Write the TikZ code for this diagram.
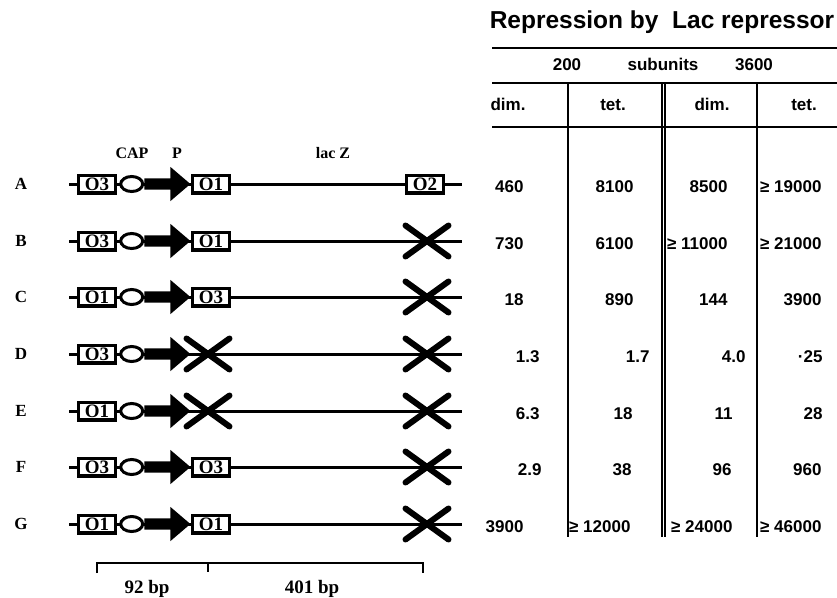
\documentclass[tikz,border=0pt]{standalone}
\usepackage{fontspec}
\setmainfont{Liberation Serif}
\newfontfamily\tabfont{Liberation Sans}
\usetikzlibrary{positioning, shapes}

\tikzset{
  dna/.style={line width=3pt},
  opbox/.style={rectangle, draw, line width=3.4pt, fill=white, minimum width=37pt, minimum height=17.6pt, inner sep=0pt, font=\bfseries\fontsize{19}{19}\selectfont},
  capsite/.style={ellipse, draw, line width=3pt, fill=white, minimum width=22pt, minimum height=15pt, inner sep=0pt},
  prom/.style={single arrow, fill=black, inner xsep=0pt, inner ysep=5.5pt, minimum height=46pt, single arrow head extend=11.5pt, single arrow tip angle=81},
  deleted/.style={cross out, draw, line width=6pt, line cap=round, minimum width=37pt, minimum height=25pt, inner sep=0pt},
  rowlabel/.style={font=\bfseries\fontsize{17}{17}\selectfont, anchor=base},
  seqlabel/.style={font=\bfseries\fontsize{16}{16}\selectfont, anchor=base},
  bplabel/.style={font=\bfseries\fontsize{19}{19}\selectfont, anchor=base},
  tabtext/.style={font=\tabfont\bfseries\fontsize{17}{17}\selectfont, anchor=base},
  tabval/.style={tabtext, anchor=base east},
  rule/.style={line width=1.5pt}
}

\begin{document}
\begin{tikzpicture}[x=1pt, y=-1pt]
  \useasboundingbox (0,0) rectangle (837,597);

  % constructs
  \node[seqlabel] (caplab) at (132,158) {CAP};
  \node[seqlabel] (plab) at (177,158) {P};
  \node[seqlabel] (lacz) at (333,158) {lac Z};

  \foreach \r/\y/\ta in {A/184/O3, B/241/O3, C/297/O1, D/354/O3, E/411/O1, F/467/O3, G/524/O1}{
    \node[rowlabel] (lab\r) at (21,\y+5) {\r};
    \coordinate (dl\r) at (69,\y);
    \coordinate (dr\r) at (462,\y);
    \draw[dna] (dl\r) -- (dr\r);
    \node[opbox] (lbox\r) at (97,\y) {\ta};
    \node[capsite, right=2pt of lbox\r] (cap\r) {};
    \node[prom, right=0pt of cap\r] (prom\r) {};
  }

  \node[opbox, right=0pt of promA] (rboxA) {O1};
  \node[opbox, right=0pt of promB] (rboxB) {O1};
  \node[opbox, right=0pt of promC] (rboxC) {O3};
  \node[opbox, right=0pt of promF] (rboxF) {O3};
  \node[opbox, right=0pt of promG] (rboxG) {O1};
  \node[opbox] (otwoA) at (425,0 |- drA) {O2};

  \node[deleted] (xmidD) at (208,0 |- dlD) {};
  \node[deleted] (xmidE) at (208,0 |- dlE) {};
  \foreach \r in {B,C,D,E,F,G}
    \node[deleted] (xend\r) at (427,0 |- dr\r) {};

  % scale
  \coordinate (sa) at (97,563);
  \coordinate (sb) at (208,563);
  \coordinate (sc) at (423,563);
  \draw[line width=1.3pt] ([yshift=-10pt]sa) -- (sa) -- (sc) -- ([yshift=-10pt]sc);
  \draw[line width=1.3pt] (sb) -- ([yshift=-9pt]sb);
  \node[bplabel] (bpa) at (147,593) {92 bp};
  \node[bplabel] (bpb) at (312,593) {401 bp};

  % table
  \node[tabtext, font=\tabfont\bfseries\fontsize{24.5}{24.5}\selectfont] (title) at (662,28) {Repression by\ \ Lac repressor};
  \draw[rule] (492,48) -- (837,48);
  \draw[rule] (492,83) -- (837,83);
  \draw[rule] (492,127) -- (837,127);
  \draw[rule] (568,83) -- (568,537);
  \draw[line width=1.1pt] (662,83) -- (662,537);
  \draw[line width=1.1pt] (665,83) -- (665,537);
  \draw[rule] (757,83) -- (757,537);

  \node[tabtext] (low) at (567,70) {200};
  \node[tabtext] (subu) at (663,70) {subunits};
  \node[tabtext] (high) at (754,70) {3600};
  \node[tabtext] (hda) at (508,110) {dim.};
  \node[tabtext] (hta) at (613,110) {tet.};
  \node[tabtext] (hdb) at (712,110) {dim.};
  \node[tabtext] (htb) at (804,110) {tet.};

  \foreach \r/\y/\a/\pa/\b/\pb/\c/\pc/\d/\pd in {
    A/184/460/527/8100/637/8500/731/≥ 19000/825,
    B/241/730/527/6100/637/≥ 11000/731/≥ 21000/825,
    C/297/18/527/890/637/144/731/3900/825,
    D/354/1.3/543/1.7/653/4.0/749/·25/826,
    E/411/6.3/543/18/636/11/736/28/826,
    F/467/2.9/545/38/635/96/735/960/825,
    G/524/3900/527/≥ 12000/634/≥ 24000/736/≥ 46000/825}{
    \node[tabval] (v\r a) at (\pa,\y+8) {\a};
    \node[tabval] (v\r b) at (\pb,\y+8) {\b};
    \node[tabval] (v\r c) at (\pc,\y+8) {\c};
    \node[tabval] (v\r d) at (\pd,\y+8) {\d};
  }
\end{tikzpicture}
\end{document}
